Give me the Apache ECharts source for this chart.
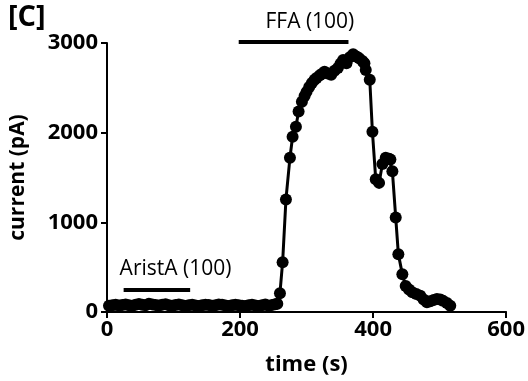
<!DOCTYPE html>
<html>
<head>
<meta charset="utf-8">
<script src="https://cdn.jsdelivr.net/npm/echarts@6/dist/echarts.min.js"></script>
<style>
  html, body { margin: 0; padding: 0; background: #fff; }
  #chart { width: 528px; height: 381px; }
</style>
</head>
<body>
<div id="chart"></div>
<script>
// recording: time (s) vs current (pA)
const times = [
  3, 8, 13, 18, 23, 28, 33, 38, 43, 48, 53, 58, 63, 68, 73, 78, 83, 88, 93, 98,
  103, 108, 113, 118, 123, 128, 133, 138, 143, 148, 153, 158, 163, 168, 173, 178,
  183, 188, 193, 198, 203, 208, 213, 218, 223, 228, 233, 238, 243, 248, 253, 256,
  260, 264, 269, 275, 279, 284, 288, 293, 297, 300, 304, 308, 312, 315, 320, 324,
  327, 332, 337, 342, 347, 351, 355, 360, 365, 370, 375, 379, 384, 387, 389, 395,
  399, 404, 409, 414, 419, 424, 426, 429, 434, 438, 444, 449, 454, 459, 465, 471,
  476, 481, 486, 491, 496, 501, 505, 511, 516
];
const current = [
  70, 75, 80, 72, 78, 85, 76, 70, 82, 88, 80, 74, 92, 85, 78, 72, 80, 86, 75, 70,
  78, 84, 76, 68, 74, 80, 72, 66, 75, 82, 78, 70, 76, 84, 80, 72, 68, 75, 82, 76,
  70, 66, 74, 80, 72, 68, 76, 84, 70, 78, 86, 92,
  210, 555, 1255, 1720, 1955, 2065, 2235, 2345, 2410, 2455, 2510, 2555, 2590, 2610, 2640, 2660,
  2680, 2660, 2645, 2690, 2720, 2770, 2810, 2775, 2840, 2875, 2850, 2830, 2800, 2775, 2700, 2590,
  2010, 1480, 1440, 1650, 1720, 1710, 1700, 1570, 1055, 645, 420, 290, 250, 220, 200, 180,
  140, 110, 120, 135, 145, 140, 125, 100, 70
];

// drug application bars: [start, end, level], label at [x, y]
const barNames = ['AristA (100)', 'FFA (100)'];
const barSpans = [[25, 125, 245], [198, 363, 3010]];
const barLabelPos = [[103, 478], [305, 3233]];

const xTicks = [0, 200, 400, 600];
const yTicks = [0, 1000, 2000, 3000];

const FONT = '"Open Sans", "DejaVu Sans", sans-serif';
const chart = echarts.init(document.getElementById('chart'));

const series = [{
  type: 'line',
  data: times.map((t, i) => [t, current[i]]),
  symbol: 'circle',
  symbolSize: 12,
  lineStyle: { color: '#000', width: 3 },
  itemStyle: { color: '#000' },
  clip: false,
  silent: true,
  z: 3
}];

barSpans.forEach((b, i) => {
  series.push({
    type: 'line',
    data: [[b[0], b[2]], [b[1], b[2]]],
    symbol: 'none',
    lineStyle: { color: '#000', width: 4 },
    clip: false,
    silent: true
  });
  series.push({
    type: 'scatter',
    data: [barLabelPos[i]],
    symbolSize: 0,
    clip: false,
    silent: true,
    itemStyle: { opacity: 1 },
    label: {
      show: true,
      position: 'inside',
      formatter: barNames[i],
      color: '#000',
      opacity: 1,
      textBorderWidth: 0,
      fontFamily: FONT,
      fontSize: 21
    }
  });
});

chart.setOption({
  animation: false,
  backgroundColor: '#fff',
  title: {
    text: '[C]',
    left: 3,
    top: -2,
    textStyle: { fontFamily: FONT, fontWeight: 'bold', fontSize: 29, color: '#000' }
  },
  grid: { left: 103, right: 21, top: 43, bottom: 68 },
  xAxis: {
    type: 'value',
    min: 0,
    max: 600,
    interval: 200,
    name: 'time (s)',
    nameLocation: 'middle',
    nameGap: 42,
    nameTextStyle: { fontFamily: FONT, fontWeight: 'bold', fontSize: 22, color: '#000' },
    axisLine: { onZero: false, lineStyle: { color: '#000', width: 2 } },
    axisTick: { show: true, length: 6, lineStyle: { color: '#000', width: 2 } },
    axisLabel: {
      color: '#000', fontFamily: FONT, fontWeight: 'bold', fontSize: 22, margin: 7,
      customValues: xTicks,
      formatter: v => String(v)
    },
    splitLine: { show: false }
  },
  yAxis: {
    type: 'value',
    min: 0,
    max: 3000,
    interval: 1000,
    name: 'current (pA)',
    nameLocation: 'middle',
    nameGap: 78,
    nameTextStyle: { fontFamily: FONT, fontWeight: 'bold', fontSize: 21, color: '#000' },
    axisLine: { show: true, lineStyle: { color: '#000', width: 2 } },
    axisTick: { show: true, length: 6, lineStyle: { color: '#000', width: 2 } },
    axisLabel: {
      color: '#000', fontFamily: FONT, fontWeight: 'bold', fontSize: 22, margin: 9,
      customValues: yTicks,
      formatter: v => String(v)
    },
    splitLine: { show: false }
  },
  series: series
});
</script>
</body>
</html>
